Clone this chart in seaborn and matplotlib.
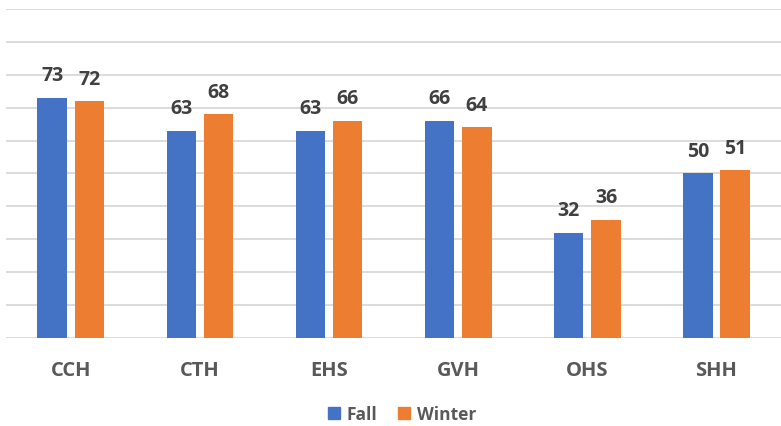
import matplotlib.pyplot as plt
import seaborn as sns
import pandas as pd

# values
sites = ["CCH", "CTH", "EHS", "GVH", "OHS", "SHH"]
fall = [73, 63, 63, 66, 32, 50]
winter = [72, 68, 66, 64, 36, 51]
seasons = ["Fall", "Winter"]
colors = ["#4472C4", "#ED7D31"]

tabela = pd.DataFrame({
    "site": sites * 2,
    "value": fall + winter,
    "season": ["Fall"] * len(sites) + ["Winter"] * len(sites),
})

sns.set_style("white")
plt.rcParams["font.family"] = ["Open Sans", "DejaVu Sans"]

fig = plt.figure(figsize=(7.81, 4.27), dpi=100)
ax = fig.add_axes([0.008, 0.206, 0.992, 0.771])

sns.barplot(data=tabela, x="site", y="value", hue="season", hue_order=seasons,
            palette=colors, width=0.577, gap=0.21, saturation=1, ax=ax,
            linewidth=0, legend=False)

ax.set_ylim(0, 100)
ax.set_xlim(-0.5, len(sites) - 0.5)
ax.set_yticks(range(0, 101, 10))
ax.set_yticklabels([])
ax.tick_params(axis="y", length=0)
ax.tick_params(axis="x", length=0, pad=16)
ax.grid(True, axis="y", color="#D9D9D9", linewidth=1.3)
ax.set_axisbelow(True)
for s in ax.spines.values():
    s.set_visible(False)
ax.set_xlabel("")
ax.set_ylabel("")
for lbl in ax.get_xticklabels():
    lbl.set_fontsize(14.5)
    lbl.set_fontweight("bold")
    lbl.set_color("#595959")

for cont in ax.containers:
    ax.bar_label(cont, fmt="%d", padding=9, fontsize=14, fontweight="bold",
                 color="#404040")

handles = [plt.Rectangle((0, 0), 1, 1, color=c) for c in colors]
fig.legend(handles, seasons, loc="center", bbox_to_anchor=(0.515, 0.027),
           ncol=2, frameon=False, handlelength=0.7, handleheight=0.7,
           handletextpad=0.4, columnspacing=1.2,
           prop={"size": 12.5, "weight": "bold"}, labelcolor="#595959")

fig.savefig("out.png", dpi=100)
